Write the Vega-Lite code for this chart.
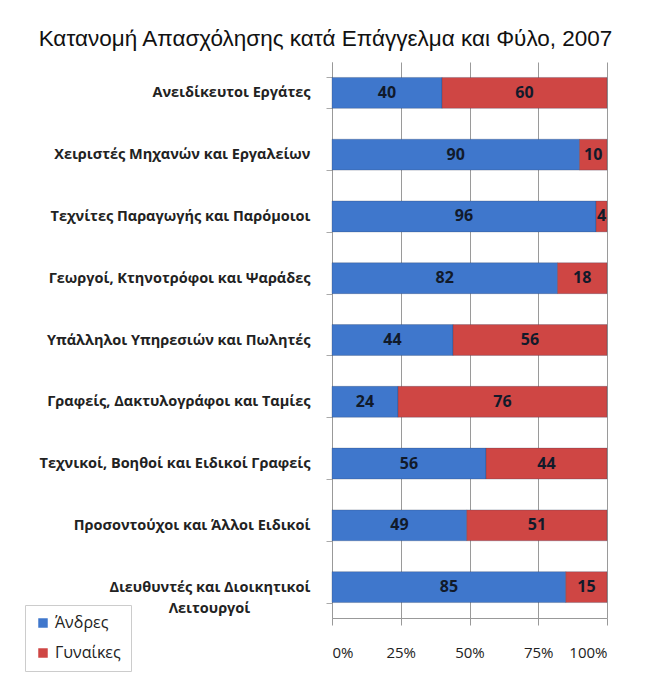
{
  "$schema": "https://vega.github.io/schema/vega-lite/v6.json",
  "width": 275,
  "height": 556,
  "autosize": {"type": "none"},
  "padding": {"left": 332, "top": 62, "right": 42, "bottom": 55},
  "background": "white",
  "title": {
    "text": "Κατανομή Απασχόλησης κατά Επάγγελμα και Φύλο, 2007",
    "font": "Liberation Sans",
    "fontSize": 22.5,
    "fontWeight": "normal",
    "color": "#111",
    "anchor": "middle",
    "dx": -144,
    "offset": 4
  },
  "data": {
    "values": [
      {"occupation": "Ανειδίκευτοι Εργάτες", "sex": "Άνδρες", "order": 1, "value": 40},
      {"occupation": "Ανειδίκευτοι Εργάτες", "sex": "Γυναίκες", "order": 2, "value": 60},
      {"occupation": "Χειριστές Μηχανών και Εργαλείων", "sex": "Άνδρες", "order": 1, "value": 90},
      {"occupation": "Χειριστές Μηχανών και Εργαλείων", "sex": "Γυναίκες", "order": 2, "value": 10},
      {"occupation": "Τεχνίτες Παραγωγής και Παρόμοιοι", "sex": "Άνδρες", "order": 1, "value": 96},
      {"occupation": "Τεχνίτες Παραγωγής και Παρόμοιοι", "sex": "Γυναίκες", "order": 2, "value": 4},
      {"occupation": "Γεωργοί, Κτηνοτρόφοι και Ψαράδες", "sex": "Άνδρες", "order": 1, "value": 82},
      {"occupation": "Γεωργοί, Κτηνοτρόφοι και Ψαράδες", "sex": "Γυναίκες", "order": 2, "value": 18},
      {"occupation": "Υπάλληλοι Υπηρεσιών και Πωλητές", "sex": "Άνδρες", "order": 1, "value": 44},
      {"occupation": "Υπάλληλοι Υπηρεσιών και Πωλητές", "sex": "Γυναίκες", "order": 2, "value": 56},
      {"occupation": "Γραφείς, Δακτυλογράφοι και Ταμίες", "sex": "Άνδρες", "order": 1, "value": 24},
      {"occupation": "Γραφείς, Δακτυλογράφοι και Ταμίες", "sex": "Γυναίκες", "order": 2, "value": 76},
      {"occupation": "Τεχνικοί, Βοηθοί και Ειδικοί Γραφείς", "sex": "Άνδρες", "order": 1, "value": 56},
      {"occupation": "Τεχνικοί, Βοηθοί και Ειδικοί Γραφείς", "sex": "Γυναίκες", "order": 2, "value": 44},
      {"occupation": "Προσοντούχοι και Άλλοι Ειδικοί", "sex": "Άνδρες", "order": 1, "value": 49},
      {"occupation": "Προσοντούχοι και Άλλοι Ειδικοί", "sex": "Γυναίκες", "order": 2, "value": 51},
      {"occupation": "Διευθυντές και Διοικητικοί Λειτουργοί", "sex": "Άνδρες", "order": 1, "value": 85},
      {"occupation": "Διευθυντές και Διοικητικοί Λειτουργοί", "sex": "Γυναίκες", "order": 2, "value": 15}
    ]
  },
  "encoding": {
    "y": {
      "field": "occupation",
      "type": "nominal",
      "sort": null,
      "scale": {"paddingInner": 0.5, "paddingOuter": 0.25},
      "axis": {
        "title": null,
        "labelFont": "Open Sans",
        "labelFontWeight": "bold",
        "labelFontSize": 14.5,
        "labelColor": "#222",
        "labelPadding": 16,
        "labelLimit": 320,
        "labelLineHeight": 21,
        "labelExpr": "datum.label == 'Διευθυντές και Διοικητικοί Λειτουργοί' ? ['Διευθυντές και Διοικητικοί', 'Λειτουργοί\u00a0\u00a0\u00a0\u00a0\u00a0\u00a0\u00a0\u00a0\u00a0\u00a0\u00a0\u00a0\u00a0\u00a0\u00a0\u00a0\u200b'] : datum.label",
        "tickBand": "extent",
        "tickSize": 6,
        "tickColor": "#aaa",
        "domainColor": "#999",
        "grid": false
      }
    },
    "x": {
      "field": "value",
      "type": "quantitative",
      "stack": "normalize",
      "scale": {"domain": [0, 1]},
      "axis": {
        "title": null,
        "values": [0, 0.25, 0.5, 0.75, 1],
        "format": ".0%",
        "grid": true,
        "gridColor": "#9a9a9a",
        "domainColor": "#999",
        "tickColor": "#999",
        "tickSize": 7,
        "labelFont": "Open Sans",
        "labelFontSize": 15,
        "labelColor": "#222",
        "labelPadding": 20
      }
    },
    "order": {"field": "order", "type": "quantitative"}
  },
  "layer": [
    {
      "mark": {"type": "bar", "stroke": "#2a3a5a", "strokeOpacity": 0.35, "strokeWidth": 0.8},
      "encoding": {
        "color": {
          "field": "sex",
          "type": "nominal",
          "scale": {"domain": ["Άνδρες", "Γυναίκες"], "range": ["#3f77cc", "#cf4644"]},
          "legend": {
            "title": null,
            "orient": "none",
            "legendX": -307,
            "legendY": 543,
            "symbolType": "square",
            "symbolSize": 90,
            "symbolStrokeWidth": 0,
            "labelFont": "Open Sans",
            "labelFontSize": 16,
            "labelColor": "#222",
            "rowPadding": 14,
            "padding": 10,
            "strokeColor": "#cccccc",
            "fillColor": "white"
          }
        }
      }
    },
    {
      "mark": {"type": "text", "font": "Open Sans", "fontWeight": "bold", "fontSize": 16, "color": "#111a2a", "baseline": "middle", "align": "center"},
      "encoding": {
        "x": {"field": "value", "type": "quantitative", "stack": "normalize", "bandPosition": 0.5},
        "text": {"field": "value", "type": "quantitative"}
      }
    }
  ],
  "config": {"view": {"stroke": null}}
}
